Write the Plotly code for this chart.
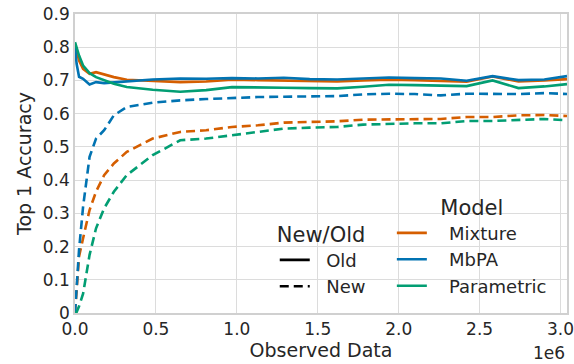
import plotly.graph_objects as go

# Observed data (x, in units of 1e6)
observed_e6 = [0, 0.01, 0.025, 0.05, 0.09, 0.13, 0.18, 0.24, 0.32, 0.48, 0.65, 0.81, 0.97,
               1.13, 1.29, 1.45, 1.62, 1.78, 1.94, 2.10, 2.26, 2.42, 2.58, 2.74, 2.90, 3.04]

mixture_old = [0.81, 0.79, 0.76, 0.735, 0.72, 0.725, 0.718, 0.71, 0.702, 0.698, 0.695, 0.697, 0.702,
               0.701, 0.700, 0.697, 0.697, 0.700, 0.702, 0.701, 0.699, 0.696, 0.712, 0.697, 0.700, 0.704]
mbpa_old = [0.80, 0.75, 0.711, 0.705, 0.688, 0.695, 0.692, 0.694, 0.698, 0.703, 0.706, 0.705, 0.707,
            0.706, 0.708, 0.704, 0.703, 0.707, 0.709, 0.707, 0.706, 0.699, 0.713, 0.701, 0.703, 0.713]
parametric_old = [0.815, 0.80, 0.775, 0.745, 0.722, 0.71, 0.70, 0.69, 0.68, 0.672, 0.666, 0.671, 0.68,
                  0.678, 0.678, 0.677, 0.676, 0.681, 0.687, 0.686, 0.685, 0.683, 0.70, 0.677, 0.682, 0.689]

mixture_new = [0.0, 0.06, 0.17, 0.225, 0.31, 0.365, 0.415, 0.45, 0.485, 0.525, 0.545, 0.55, 0.56,
               0.565, 0.573, 0.575, 0.577, 0.582, 0.583, 0.583, 0.584, 0.59, 0.59, 0.595, 0.596, 0.593]
mbpa_new = [0.0, 0.09, 0.19, 0.32, 0.47, 0.525, 0.55, 0.595, 0.62, 0.633, 0.64, 0.644, 0.648,
            0.65, 0.651, 0.652, 0.653, 0.658, 0.66, 0.659, 0.655, 0.66, 0.66, 0.659, 0.662, 0.659]
parametric_new = [0.0, 0.003, 0.02, 0.058, 0.175, 0.255, 0.315, 0.365, 0.415, 0.475, 0.52, 0.525, 0.535,
                  0.545, 0.555, 0.558, 0.56, 0.567, 0.57, 0.571, 0.571, 0.578, 0.578, 0.582, 0.584, 0.58]

x_tick_vals_e6 = [0, 0.5, 1.0, 1.5, 2.0, 2.5, 3.0]
x_tick_text = ["0.0", "0.5", "1.0", "1.5", "2.0", "2.5", "3.0"]
y_tick_vals = [0, 0.1, 0.2, 0.3, 0.4, 0.5, 0.6, 0.7, 0.8, 0.9]
y_tick_text = ["0", "0.1", "0.2", "0.3", "0.4", "0.5", "0.6", "0.7", "0.8", "0.9"]

models = ["Mixture", "MbPA", "Parametric"]
colors = {"Mixture": "#d55e00", "MbPA": "#0173b2", "Parametric": "#029e73"}
old_vals = {"Mixture": mixture_old, "MbPA": mbpa_old, "Parametric": parametric_old}
new_vals = {"Mixture": mixture_new, "MbPA": mbpa_new, "Parametric": parametric_new}

x = [v * 1e6 for v in observed_e6]
LW = 2.6
DASH = "9px,5px"
TXT = "#262626"
FONT = "DejaVu Sans"
NB = "\u00a0"

fig = go.Figure()
for m in models:
    fig.add_trace(go.Scatter(x=x, y=new_vals[m], mode="lines", showlegend=False,
                             line=dict(color=colors[m], width=LW, dash=DASH)))
for m in models:
    fig.add_trace(go.Scatter(x=x, y=old_vals[m], mode="lines", showlegend=False,
                             line=dict(color=colors[m], width=LW)))

# Legend: New/Old
fig.add_trace(go.Scatter(x=[None], y=[None], mode="lines", name=NB * 2 + "Old", legend="legend",
                         line=dict(color="black", width=LW)))
fig.add_trace(go.Scatter(x=[None], y=[None], mode="lines", name=NB * 2 + "New", legend="legend",
                         line=dict(color="black", width=LW, dash=DASH)))
# Legend: Model
for m in models:
    fig.add_trace(go.Scatter(x=[None], y=[None], mode="lines", name=NB * 3 + m, legend="legend2",
                             line=dict(color=colors[m], width=LW)))

fig.update_layout(
    width=574, height=364,
    margin=dict(l=75, r=7, t=14, b=51, autoexpand=False),
    paper_bgcolor="white", plot_bgcolor="white",
    font=dict(family=FONT, color=TXT, size=17),
    xaxis=dict(range=[0, 3.04e6], tickvals=[v * 1e6 for v in x_tick_vals_e6], ticktext=x_tick_text,
               showgrid=True, gridcolor="#dcdcdc", gridwidth=1.3, zeroline=False, automargin=False,
               showline=True, linecolor="#d0d0d0", linewidth=1.5, mirror=True,
               ticks="", tickfont=dict(size=17, color=TXT), ticklabeloverflow="allow",
               title=dict(text="Observed Data", font=dict(size=19, color=TXT), standoff=5)),
    yaxis=dict(range=[0, 0.9], tickvals=y_tick_vals, ticktext=y_tick_text,
               showgrid=True, gridcolor="#dcdcdc", gridwidth=1.3, zeroline=False, automargin=False,
               showline=True, linecolor="#d0d0d0", linewidth=1.5, mirror=True,
               ticks="", tickfont=dict(size=17, color=TXT), ticklabeloverflow="allow",
               title=dict(text="Top 1 Accuracy", font=dict(size=19, color=TXT), standoff=6)),
    legend=dict(x=0.406, y=0.33, xanchor="left", yanchor="top", bgcolor="rgba(0,0,0,0)",
                font=dict(size=18, color=TXT), title=dict(text="New/Old", font=dict(size=21, color=TXT))),
    legend2=dict(x=0.644, y=0.42, xanchor="left", yanchor="top", bgcolor="rgba(0,0,0,0)",
                 font=dict(size=18, color=TXT),
                 title=dict(text="Model", side="top center", font=dict(size=21, color=TXT))),
    annotations=[dict(text="1e6", xref="paper", yref="paper", x=1.0, y=-0.095, xanchor="right",
                      yanchor="top", showarrow=False, font=dict(size=17, color=TXT))],
)

fig.write_html("out.html", config={"displayModeBar": False},
               post_script="document.body.style.margin='0';document.body.style.padding='0';")
